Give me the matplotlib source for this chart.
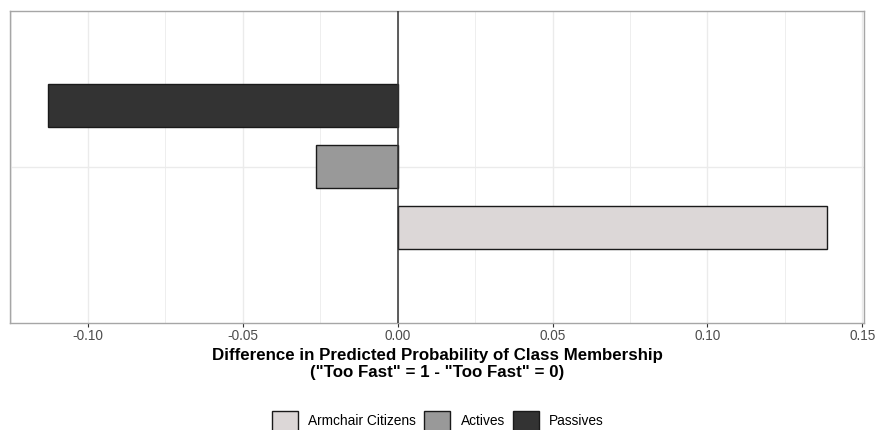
import matplotlib
matplotlib.use("Agg")
import matplotlib.pyplot as plt
from matplotlib.patches import Patch
from matplotlib.ticker import MultipleLocator

plt.rcParams["font.family"] = ["Liberation Sans", "DejaVu Sans"]

# data
classes = ["Armchair Citizens", "Actives", "Passives"]
diffs = [0.1387, -0.0265, -0.1129]
colors = ["#dcd7d7", "#999999", "#333333"]
offsets = [-0.235, 0.0, 0.235]
xticks = [-0.10, -0.05, 0.00, 0.05, 0.10, 0.15]
xlabels = ["-0.10", "-0.05", "0.00", "0.05", "0.10", "0.15"]

fig = plt.figure(figsize=(8.76, 4.3), dpi=100)
ax = fig.add_axes([0.0114, 0.2500, 0.975, 0.7244])

for cls, d, c, off in zip(classes, diffs, colors, offsets):
  ax.barh(1 + off, d, height=0.166, color=c, edgecolor="#1a1a1a", linewidth=1.0, zorder=3)

ax.axvline(0, color="#333333", linewidth=1.1, zorder=4)

ax.set_xlim(-0.1252, 0.1506)
ax.set_ylim(0.4, 1.6)
ax.set_xticks(xticks)
ax.set_xticklabels(xlabels)
ax.xaxis.set_minor_locator(MultipleLocator(0.025))
ax.set_yticks([1])
ax.set_yticklabels([])
ax.tick_params(axis="y", length=0)
ax.tick_params(axis="x", which="major", length=3, width=0.8, color="#333333",
               labelsize=9.8, labelcolor="#4d4d4d", pad=2)
ax.tick_params(axis="x", which="minor", length=0)
ax.grid(True, which="major", color="#ebebeb", linewidth=1.0, zorder=0)
ax.grid(True, which="minor", axis="x", color="#ebebeb", linewidth=0.6, zorder=0)
for s in ax.spines.values():
  s.set_color("#a6a6a6")
  s.set_linewidth(1.0)

ax.set_xlabel("Difference in Predicted Probability of Class Membership\n"
              "(\"Too Fast\" = 1 - \"Too Fast\" = 0)",
              fontsize=12.2, fontweight="bold", labelpad=3, linespacing=1.2)

handles = [Patch(facecolor=c, edgecolor="#1a1a1a", linewidth=1.0) for c in colors]
fig.legend(handles, classes, loc="center", bbox_to_anchor=(0.5, 0.021), ncol=3,
           frameon=False, fontsize=9.9, handlelength=1.9, handleheight=1.9,
           handletextpad=0.73, columnspacing=0.6, borderpad=0)

fig.savefig("out.png", dpi=100)
